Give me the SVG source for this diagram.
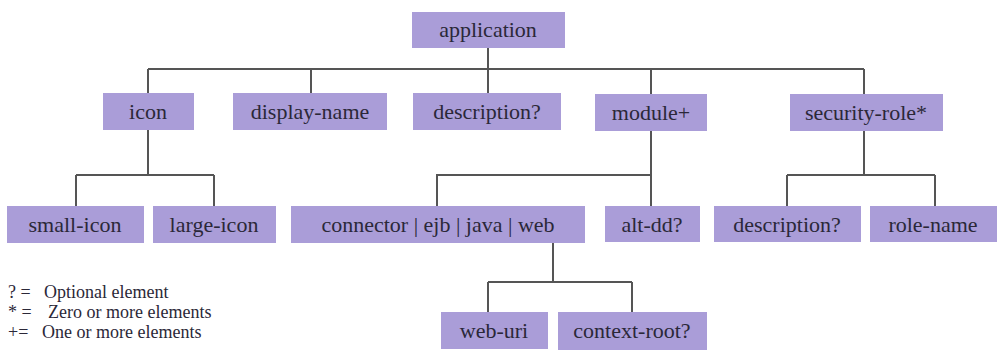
<svg xmlns="http://www.w3.org/2000/svg" width="998" height="351" viewBox="0 0 998 351">
<style>
.box{fill:#aa9dd8}
.lbl{font-family:'Liberation Serif','Tinos','Times New Roman','DejaVu Serif',serif;font-size:22px;fill:#2b2838;text-anchor:middle}
.leg{font-family:'Liberation Serif','Tinos','Times New Roman','DejaVu Serif',serif;font-size:18px;fill:#2b2838}
.con{fill:none;stroke:#555;stroke-width:2}
</style>
<rect width="998" height="351" fill="#fff"/>
<g id="connectors">
<path class="con" d="M488 48V69M148 69H864M148 69V93M311 69V93M488 69V93M651 69V94M864 69V94"/>
<path class="con" d="M148 130V175M76 175H214M76 175V206M214 175V206"/>
<path class="con" d="M651 131V175H437V206M651 175V206"/>
<path class="con" d="M864 131V175M787 175H935M787 175V206M935 175V206"/>
<path class="con" d="M553 243V282M488 282H632M488 282V312M632 282V312"/>
</g>
<g id="application"><rect class="box" x="412" y="12" width="153" height="36"/><text class="lbl" x="488" y="37">application</text></g>
<g id="icon"><rect class="box" x="103" y="93" width="91" height="37"/><text class="lbl" x="148" y="119">icon</text></g>
<g id="display-name"><rect class="box" x="233" y="93" width="154" height="37"/><text class="lbl" x="310" y="119">display-name</text></g>
<g id="description"><rect class="box" x="413" y="93" width="148" height="37"/><text class="lbl" x="487" y="119">description?</text></g>
<g id="module"><rect class="box" x="595" y="94" width="112" height="37"/><text class="lbl" x="651" y="120">module+</text></g>
<g id="security-role"><rect class="box" x="790" y="94" width="153" height="37"/><text class="lbl" x="866" y="120">security-role*</text></g>
<g id="small-icon"><rect class="box" x="7" y="206" width="137" height="37"/><text class="lbl" x="75" y="232">small-icon</text></g>
<g id="large-icon"><rect class="box" x="153" y="206" width="123" height="37"/><text class="lbl" x="214" y="232">large-icon</text></g>
<g id="connector-ejb-java-web"><rect class="box" x="291" y="206" width="294" height="37"/><text class="lbl" x="438" y="232">connector | ejb | java | web</text></g>
<g id="alt-dd"><rect class="box" x="605" y="206" width="95" height="36"/><text class="lbl" x="652" y="232">alt-dd?</text></g>
<g id="description2"><rect class="box" x="714" y="206" width="147" height="36"/><text class="lbl" x="787" y="232">description?</text></g>
<g id="role-name"><rect class="box" x="870" y="206" width="127" height="36"/><text class="lbl" x="933" y="232">role-name</text></g>
<g id="web-uri"><rect class="box" x="441" y="312" width="107" height="37"/><text class="lbl" x="494" y="338">web-uri</text></g>
<g id="context-root"><rect class="box" x="558" y="312" width="149" height="38"/><text class="lbl" x="632" y="338">context-root?</text></g>
<g id="legend">
<text class="leg" x="8" y="298">? =</text><text class="leg" x="44" y="298">Optional element</text>
<text class="leg" x="8" y="318">* =</text><text class="leg" x="48" y="318">Zero or more elements</text>
<text class="leg" x="8" y="338">+=</text><text class="leg" x="42" y="338">One or more elements</text>
</g>
</svg>
